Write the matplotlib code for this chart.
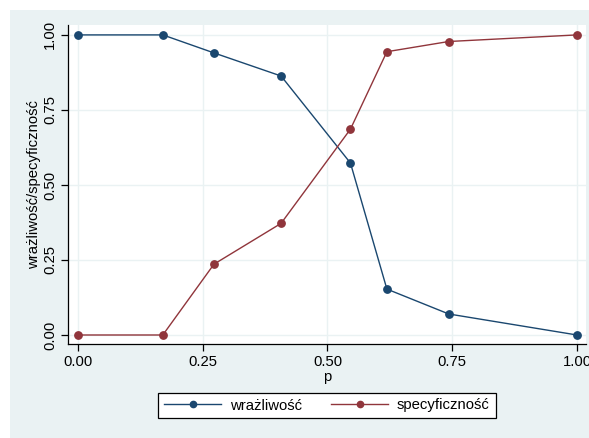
import matplotlib
matplotlib.use("Agg")
import matplotlib.pyplot as plt
from matplotlib.patches import Rectangle

p = [0.0, 0.170, 0.2725, 0.407, 0.546, 0.619, 0.743, 1.0]
wrazliwosc = [1.0, 1.0, 0.94, 0.863, 0.573, 0.153, 0.070, 0.0]
specyficznosc = [0.0, 0.0, 0.236, 0.372, 0.686, 0.944, 0.978, 1.0]
ticks = [0.0, 0.25, 0.5, 0.75, 1.0]
tick_labels = ["0.00", "0.25", "0.50", "0.75", "1.00"]

plt.rcParams['font.family'] = ['Liberation Sans', 'DejaVu Sans']

W, H = 589, 438
fig = plt.figure(figsize=(W/100, H/100), dpi=100, facecolor='white')
fig.patches.append(Rectangle((10/W, 0), 1 - 10/W, 1 - 10/H, transform=fig.transFigure,
                             facecolor='#EAF2F3', edgecolor='none', zorder=-10))

ax = fig.add_axes([68/W, (H-344)/H, (586-68)/W, (344-25)/H])
ax.set_facecolor('white')
blue = '#1A476F'
red = '#90353B'
ax.plot(p, wrazliwosc, color=blue, lw=1.0, marker='o', ms=5.3, label='wrażliwość', zorder=3)
ax.plot(p, specyficznosc, color=red, lw=1.0, marker='o', ms=5.3, label='specyficzność', zorder=3)

ax.set_xlim(-0.02, 1.018)
ax.set_ylim(-0.03, 1.033)
ax.set_xticks(ticks)
ax.set_xticklabels(tick_labels)
ax.set_yticks(ticks)
ax.set_yticklabels(tick_labels, rotation=90, va='center')
ax.grid(True, color='#EAF2F3', lw=1.0)
ax.set_axisbelow(True)
for s in ['top', 'right']:
    ax.spines[s].set_visible(False)
for s in ['left', 'bottom']:
    ax.spines[s].set_color('black')
    ax.spines[s].set_linewidth(0.9)
ax.tick_params(direction='out', length=5, width=0.9, labelsize=10.7, colors='black', pad=3)
ax.set_xlabel('p', fontsize=10.7, labelpad=1)
ax.set_ylabel('wrażliwość/specyficzność', fontsize=10.7)
ax.yaxis.set_label_coords(-0.052, 0.5)

leg = ax.legend(loc='center', bbox_to_anchor=(327/W, 1 - 405.5/H), bbox_transform=fig.transFigure,
                ncol=2, frameon=True, fancybox=False, edgecolor='black', framealpha=1,
                fontsize=10.7, handlelength=3.8, columnspacing=2.0, borderpad=0.4,
                handletextpad=0.6, markerscale=0.85)
leg.get_frame().set_linewidth(0.9)

fig.savefig('out.png', dpi=100)
